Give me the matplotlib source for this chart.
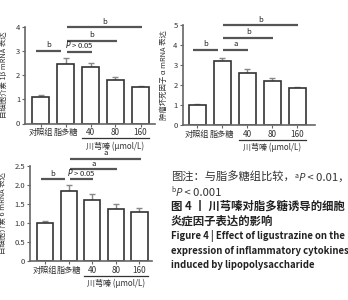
import matplotlib
matplotlib.use("Agg")
import matplotlib.pyplot as plt
from matplotlib.transforms import blended_transform_factory, ScaledTranslation

plt.rcParams['font.family'] = ['Noto Sans CJK SC', 'DejaVu Sans']
plt.rcParams['axes.unicode_minus'] = False

# ---- data ----
groups = ["对照组", "脂多糖", "40", "80", "160"]
dose_label = "川芎嗪 (μmol/L)"

il1b_mean = [1.10, 2.45, 2.34, 1.78, 1.50]
il1b_err = [0.07, 0.24, 0.17, 0.12, 0.04]
il1b_sig = [(0, 1, 3.00, "b"), (1, 2, 2.96, "$P$ > 0.05"), (1, 3, 3.42, "b"), (1, 4, 3.96, "b")]

tnf_mean = [0.98, 3.22, 2.60, 2.19, 1.83]
tnf_err = [0.09, 0.13, 0.20, 0.15, 0.07]
tnf_sig = [(0, 1, 3.77, "b"), (1, 2, 3.77, "a"), (1, 3, 4.37, "b"), (1, 4, 4.98, "b")]

il6_mean = [1.00, 1.83, 1.60, 1.36, 1.29]
il6_err = [0.04, 0.17, 0.15, 0.14, 0.11]
il6_sig = [(0, 1, 2.14, "b"), (1, 2, 2.14, "$P$ > 0.05"), (1, 3, 2.41, "a"), (1, 4, 2.68, "a")]

W, H = 348, 300
fig = plt.figure(figsize=(W / 100, H / 100), dpi=100)

EDGE = "#333333"
AXC = "#666666"
SIGC = "#555555"


def panel(pos_px, xlim, ylim, yticks, yticklabels, mean, err, sig, ylabel,
          ylab_x, unit_px):
    x0, ybot, w, h = pos_px
    ax = fig.add_axes([x0 / W, 1 - ybot / H, w / W, h / H])
    xs = list(range(len(groups)))
    ax.bar(xs, mean, width=0.68, color="white", edgecolor=EDGE, linewidth=1.2, zorder=2)
    ax.errorbar(xs, mean, yerr=[[0] * len(err), err], fmt="none", ecolor="#888888",
                elinewidth=1.0, capsize=2.2, capthick=1.0, zorder=1)
    ax.set_xlim(*xlim)
    ax.set_ylim(*ylim)
    ax.set_yticks(yticks)
    ax.set_yticklabels(yticklabels, fontsize=5.5, color="#333333")
    ax.set_xticks(xs)
    ax.set_xticklabels(groups, fontsize=5.9, color="#333333")
    # the two chinese labels sit a little apart, as in the original
    labs = ax.get_xticklabels()
    labs[0].set_transform(labs[0].get_transform() + ScaledTranslation(-3 / 100, 0, fig.dpi_scale_trans))
    labs[1].set_transform(labs[1].get_transform() + ScaledTranslation(1.5 / 100, 0, fig.dpi_scale_trans))
    for s in ["top", "right"]:
        ax.spines[s].set_visible(False)
    for s in ["left", "bottom"]:
        ax.spines[s].set_color(AXC)
        ax.spines[s].set_linewidth(1.2)
    ax.tick_params(axis="both", length=2, width=0.8, color=AXC, pad=1.5)
    ax.set_ylabel(ylabel, fontsize=5.3, color="#333333")
    ax.yaxis.set_label_coords(ylab_x, 0.5)

    # significance bars
    off = 1.5 / unit_px
    for i, j, y, lab in sig:
        if i == 0:
            xa, xb = i - 0.17, j - 0.17
        else:
            xa, xb = i + 0.05, j + 0.05
        ax.plot([xa, xb], [y, y], color=SIGC, lw=1.6, clip_on=False, solid_capstyle="butt")
        ax.text((xa + xb) / 2, y + off, lab, ha="center", va="bottom", fontsize=5.5,
                color="#222222", clip_on=False)

    # dose group bracket
    tr = blended_transform_factory(ax.transData, ax.transAxes)
    ax.plot([2 - 0.34, 4 + 0.34], [-14.5 / h, -14.5 / h], color="#333333", lw=0.9,
            transform=tr, clip_on=False)
    ax.text(3, -22.5 / h, dose_label, ha="center", va="center", fontsize=5.8,
            color="#333333", transform=tr)
    return ax


panel((25, 123.5, 130, 97), (-0.62, 4.58), (0, 4), [0, 1, 2, 3, 4],
      ["0", "1", "2", "3", "4"], il1b_mean, il1b_err, il1b_sig,
      "白细胞介素 1β mRNA 表达", -0.13, 97 / 4)
panel((182.5, 125, 132.5, 100), (-0.58, 4.72), (0, 5), [0, 1, 2, 3, 4, 5],
      ["0", "1", "2", "3", "4", "5"], tnf_mean, tnf_err, tnf_sig,
      "肿瘤坏死因子 α mRNA 表达", -0.11, 100 / 5)
panel((30, 261, 122, 95.3), (-0.64, 4.53), (0, 2.5), [0, 0.5, 1.0, 1.5, 2.0, 2.5],
      ["0", "0.5", "1.0", "1.5", "2.0", "2.5"], il6_mean, il6_err, il6_sig,
      "白细胞介素 6 mRNA 表达", -0.19, 95.3 / 2.5)

# ---- caption (pieces placed one after another) ----
renderer = fig.canvas.get_renderer()
CJK = ['Noto Sans CJK SC', 'DejaVu Sans']


def line(x_px, y_px, pieces):
    x = x_px / W
    for s, kw in pieces:
        kw = dict(kw)
        dy = kw.pop("dy", 0)
        t = fig.text(x, 1 - (y_px - dy) / H, s, ha="left", va="baseline", **kw)
        bb = t.get_window_extent(renderer)
        x = bb.x1 / W


cap = dict(fontsize=8.1, color="#333333", family=CJK)
sup = dict(fontsize=5.0, color="#333333", family=CJK, dy=3.5)
ital = dict(fontsize=8.1, color="#333333", family="Open Sans", style="italic")

line(171, 181, [("图注：与脂多糖组比较，", cap), ("a", sup), ("P", ital), (" < 0.01，", cap)])
line(171, 195.5, [("b", sup), ("P", ital), (" < 0.001", cap)])

bold = dict(fontsize=8.2, color="#222222", family=CJK, weight="bold")
line(171, 210, [("图 4 丨 川芎嗪对脂多糖诱导的细胞", bold)])
line(171, 224.5, [("炎症因子表达的影响", bold)])
eng = dict(fontsize=6.9, color="#222222", family=CJK, weight="bold")
line(171, 239, [("Figure 4 | Effect of ligustrazine on the", eng)])
line(171, 253.5, [("expression of inflammatory cytokines", eng)])
line(171, 268, [("induced by lipopolysaccharide", eng)])

fig.savefig("out.png", dpi=100)
